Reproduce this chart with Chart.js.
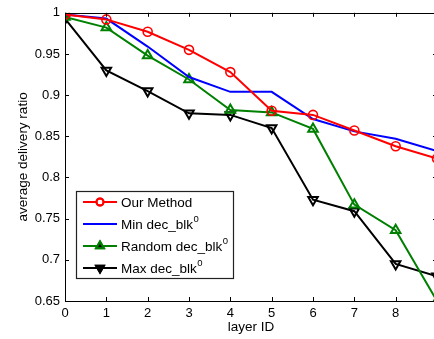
<!DOCTYPE html>
<html><head><meta charset="utf-8">
<script src="https://cdn.jsdelivr.net/npm/chart.js@4/dist/chart.umd.min.js"></script>
<style>
html,body{margin:0;padding:0;overflow:hidden;background:#fff;width:434px;height:339px}
#wrap{width:448px;height:339px;position:relative}
</style>
</head><body><div id="wrap"><canvas id="c" width="448" height="339"></canvas></div>
<script>
const layers=[0,1,2,3,4,5,6,7,8,9];
const ourMethod=[0.998,0.992,0.977,0.955,0.928,0.881,0.876,0.857,0.838,0.823];
const minDec=[0.998,0.993,0.959,0.922,0.904,0.904,0.871,0.856,0.847,0.832];
const randomDec=[0.995,0.982,0.948,0.919,0.882,0.879,0.859,0.767,0.736,0.650];
const maxDec=[0.993,0.930,0.905,0.878,0.876,0.860,0.773,0.759,0.695,0.680];
const seriesNames=['Our Method','Min dec_blk','Random dec_blk','Max dec_blk'];
const seriesSup=['','0','0','0'];
const yTickValues=[0.65,0.7,0.75,0.8,0.85,0.9,0.95,1];
const xTitle='layer ID';
const yTitle='average delivery ratio';

const FONT='"Liberation Sans", Arial, Helvetica, sans-serif';
const toXY=arr=>arr.map((v,i)=>({x:layers[i],y:v}));

const datasets=[
 {label:seriesNames[0],data:toXY(ourMethod),borderColor:'#ff0000',backgroundColor:'rgba(0,0,0,0)',pointStyle:'circle',pointRadius:4.5,pointBorderWidth:1.6,borderWidth:2},
 {label:seriesNames[1],data:toXY(minDec),borderColor:'#0000ff',backgroundColor:'rgba(0,0,0,0)',pointRadius:0,borderWidth:2},
 {label:seriesNames[2],data:toXY(randomDec),borderColor:'#008000',backgroundColor:'rgba(0,0,0,0)',pointStyle:'triangle',pointRadius:5.5,pointBorderWidth:2,borderWidth:2},
 {label:seriesNames[3],data:toXY(maxDec),borderColor:'#000000',backgroundColor:'rgba(0,0,0,0)',pointStyle:'triangle',pointRotation:180,pointRadius:5.5,pointBorderWidth:2,borderWidth:2}
];

const framePlugin={
 id:'frame',
 afterDraw(chart){
  const ctx=chart.ctx, a=chart.chartArea, xs=chart.scales.x, ys=chart.scales.y;
  ctx.save();
  ctx.strokeStyle='#000'; ctx.lineWidth=1;
  ctx.strokeRect(Math.round(a.left)+0.5,Math.round(a.top)+0.5,Math.round(a.right-a.left),Math.round(a.bottom-a.top));
  ctx.beginPath();
  layers.forEach(v=>{
   const px=Math.round(xs.getPixelForValue(v))+0.5;
   ctx.moveTo(px,a.bottom); ctx.lineTo(px,a.bottom-4);
   ctx.moveTo(px,a.top); ctx.lineTo(px,a.top+4);
  });
  yTickValues.forEach(v=>{
   const py=Math.round(ys.getPixelForValue(v))+0.5;
   ctx.moveTo(a.left,py); ctx.lineTo(a.left+4,py);
   ctx.moveTo(a.right,py); ctx.lineTo(a.right-4,py);
  });
  ctx.stroke();
  // legend
  const lx=76.5, ly=191.5, lw=157, lh=87;
  ctx.fillStyle='#fff'; ctx.fillRect(lx,ly,lw,lh);
  ctx.strokeStyle='#222'; ctx.lineWidth=1.2; ctx.strokeRect(lx,ly,lw,lh);
  const rows=[202,224,246,268];
  datasets.forEach((ds,i)=>{
   const y=rows[i];
   ctx.strokeStyle=ds.borderColor; ctx.lineWidth=2;
   ctx.beginPath(); ctx.moveTo(83,y); ctx.lineTo(117,y); ctx.stroke();
   if(ds.pointRadius>0){
     Chart.helpers.drawPoint(ctx,{pointStyle:ds.pointStyle,rotation:ds.pointRotation||0,radius:ds.pointStyle==='circle'?3.5:4.5,borderWidth:2},100,y);
     ctx.stroke();
   }
   ctx.fillStyle='#000'; ctx.textBaseline='middle'; ctx.textAlign='left';
   ctx.font='13.5px '+FONT;
   ctx.fillText(seriesNames[i],121,y+1);
   if(seriesSup[i]){
     const w=ctx.measureText(seriesNames[i]).width;
     ctx.font='9.5px '+FONT;
     ctx.fillText(seriesSup[i],121+w+0.5,y-5);
   }
  });
  ctx.restore();
 }
};

new Chart(document.getElementById('c'),{
 type:'line',
 data:{datasets},
 options:{
  responsive:false,animation:false,devicePixelRatio:1,
  layout:{padding:{top:8,right:11,left:0,bottom:0}},
  plugins:{legend:{display:false},tooltip:{enabled:false}},
  scales:{
   x:{type:'linear',min:0,max:9,
      afterBuildTicks(s){s.ticks=layers.map(v=>({value:v}));},
      ticks:{color:'#000',font:{size:13,family:FONT},padding:5,maxRotation:0,autoSkip:false,callback:v=>String(v)},
      grid:{display:true,drawOnChartArea:false,drawTicks:false},
      border:{display:false},
      title:{display:true,text:xTitle,color:'#000',font:{size:13.5,family:FONT},padding:{top:0,bottom:4}},
      afterFit(s){s.height=38;}
   },
   y:{type:'linear',min:0.65,max:1,
      afterBuildTicks(s){s.ticks=yTickValues.map(v=>({value:v}));},
      ticks:{color:'#000',font:{size:13,family:FONT},padding:5,autoSkip:false,callback:v=>String(Number(v.toFixed(2)))},
      grid:{display:true,drawOnChartArea:false,drawTicks:false},
      border:{display:false},
      title:{display:true,text:yTitle,color:'#000',font:{size:13.5,family:FONT},padding:{top:15,bottom:0}},
      afterFit(s){s.width=65;}
   }
  }
 },
 plugins:[framePlugin]
});
</script>
</body></html>
